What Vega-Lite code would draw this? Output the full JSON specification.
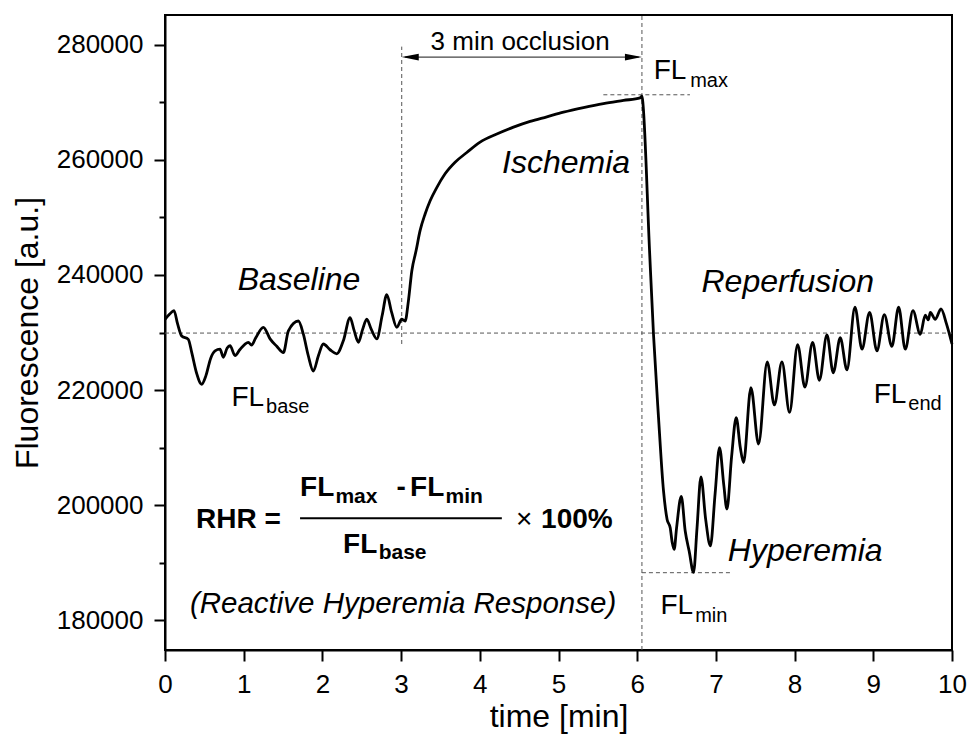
{
  "$schema": "https://vega.github.io/schema/vega-lite/v6.json",
  "width": 787,
  "height": 635,
  "padding": {"left": 165, "top": 15, "right": 16, "bottom": 86},
  "autosize": {"type": "none"},
  "background": "white",
  "config": {
    "view": {"stroke": "black", "strokeWidth": 2},
    "font": "Liberation Sans",
    "axis": {
      "labelFont": "Liberation Sans", "titleFont": "Liberation Sans",
      "labelColor": "black", "titleColor": "black",
      "domainColor": "black", "tickColor": "black",
      "domainWidth": 2, "tickWidth": 2, "grid": false,
      "titleFontWeight": "normal", "labelFontSize": 26, "titleFontSize": 32
    }
  },
  "datasets": {
    "curve": [
      {"t": 0.000, "v": 232300}, {"t": 0.060, "v": 233200}, {"t": 0.114, "v": 233800}, {"t": 0.160, "v": 231500},
      {"t": 0.212, "v": 229400}, {"t": 0.296, "v": 228800}, {"t": 0.340, "v": 226500}, {"t": 0.400, "v": 223000},
      {"t": 0.466, "v": 221000}, {"t": 0.520, "v": 222500}, {"t": 0.580, "v": 225500}, {"t": 0.636, "v": 226800},
      {"t": 0.699, "v": 227100}, {"t": 0.741, "v": 225700}, {"t": 0.790, "v": 227300}, {"t": 0.826, "v": 227700},
      {"t": 0.890, "v": 226000}, {"t": 0.950, "v": 227000}, {"t": 1.017, "v": 228000}, {"t": 1.059, "v": 228300},
      {"t": 1.100, "v": 227800}, {"t": 1.150, "v": 229000}, {"t": 1.250, "v": 230900}, {"t": 1.335, "v": 228900},
      {"t": 1.420, "v": 227600}, {"t": 1.504, "v": 226500}, {"t": 1.568, "v": 230300}, {"t": 1.695, "v": 232000},
      {"t": 1.758, "v": 229700}, {"t": 1.820, "v": 226000}, {"t": 1.885, "v": 223300}, {"t": 1.950, "v": 226000},
      {"t": 2.012, "v": 228000}, {"t": 2.097, "v": 227000}, {"t": 2.182, "v": 226300}, {"t": 2.267, "v": 228600},
      {"t": 2.352, "v": 232600}, {"t": 2.400, "v": 230500}, {"t": 2.457, "v": 228300}, {"t": 2.510, "v": 230500},
      {"t": 2.564, "v": 232300}, {"t": 2.620, "v": 230600}, {"t": 2.691, "v": 228900}, {"t": 2.760, "v": 233000},
      {"t": 2.818, "v": 236600}, {"t": 2.880, "v": 233500}, {"t": 2.945, "v": 230900}, {"t": 3.008, "v": 232300},
      {"t": 3.051, "v": 232000}, {"t": 3.093, "v": 235500}, {"t": 3.136, "v": 240700}, {"t": 3.190, "v": 244200},
      {"t": 3.241, "v": 247700}, {"t": 3.305, "v": 250600}, {"t": 3.369, "v": 252900}, {"t": 3.453, "v": 255200},
      {"t": 3.559, "v": 257600}, {"t": 3.686, "v": 259600}, {"t": 3.835, "v": 261300}, {"t": 4.004, "v": 263100},
      {"t": 4.216, "v": 264500}, {"t": 4.428, "v": 265700}, {"t": 4.640, "v": 266700}, {"t": 4.852, "v": 267500},
      {"t": 5.063, "v": 268300}, {"t": 5.317, "v": 269100}, {"t": 5.571, "v": 269800}, {"t": 5.826, "v": 270350},
      {"t": 6.038, "v": 270800}, {"t": 6.062, "v": 271100}, {"t": 6.075, "v": 269500}, {"t": 6.157, "v": 244200},
      {"t": 6.207, "v": 229700}, {"t": 6.271, "v": 215200}, {"t": 6.334, "v": 202500}, {"t": 6.380, "v": 197500},
      {"t": 6.420, "v": 196000}, {"t": 6.445, "v": 193500}, {"t": 6.470, "v": 192300}, {"t": 6.500, "v": 196000},
      {"t": 6.560, "v": 201500}, {"t": 6.610, "v": 195500}, {"t": 6.660, "v": 192000}, {"t": 6.716, "v": 188300},
      {"t": 6.760, "v": 196000}, {"t": 6.810, "v": 204900}, {"t": 6.870, "v": 197500}, {"t": 6.930, "v": 192900},
      {"t": 6.990, "v": 202000}, {"t": 7.046, "v": 210000}, {"t": 7.100, "v": 203500}, {"t": 7.140, "v": 199300},
      {"t": 7.200, "v": 208500}, {"t": 7.258, "v": 215200}, {"t": 7.310, "v": 210000}, {"t": 7.351, "v": 207400},
      {"t": 7.445, "v": 220400}, {"t": 7.542, "v": 210600}, {"t": 7.652, "v": 224900}, {"t": 7.743, "v": 217400},
      {"t": 7.839, "v": 224900}, {"t": 7.936, "v": 216100}, {"t": 8.038, "v": 227900}, {"t": 8.131, "v": 220500},
      {"t": 8.229, "v": 228300}, {"t": 8.315, "v": 221700}, {"t": 8.411, "v": 229600}, {"t": 8.491, "v": 223000},
      {"t": 8.580, "v": 229100}, {"t": 8.665, "v": 223500}, {"t": 8.767, "v": 234400}, {"t": 8.856, "v": 227100},
      {"t": 8.953, "v": 233500}, {"t": 9.046, "v": 226800}, {"t": 9.140, "v": 233100}, {"t": 9.236, "v": 227600},
      {"t": 9.322, "v": 234400}, {"t": 9.406, "v": 227100}, {"t": 9.504, "v": 233800}, {"t": 9.597, "v": 229700},
      {"t": 9.660, "v": 233000}, {"t": 9.700, "v": 232200}, {"t": 9.724, "v": 233500}, {"t": 9.788, "v": 232300},
      {"t": 9.860, "v": 234100}, {"t": 9.930, "v": 231500}, {"t": 10.000, "v": 228000}
    ],
    "dashedLines": [
      {"t": 0, "t2": 10, "v": 229900, "v2": 229900},
      {"t": 3.008, "t2": 3.008, "v": 228000, "v2": 279700},
      {"t": 6.06, "t2": 6.06, "v": 174800, "v2": 285200},
      {"t": 5.57, "t2": 6.67, "v": 271330, "v2": 271330},
      {"t": 6.06, "t2": 7.19, "v": 188240, "v2": 188240}
    ],
    "arrowShaft": [{"t": 3.05, "t2": 6.02, "v": 277880}],
    "arrowLeft": [{"t": 3.008, "v": 277880}],
    "arrowRight": [{"t": 6.06, "v": 277880}],
    "fractionBar": [{"t": 1.716, "t2": 4.28, "v": 197705}],
    "phaseLabels": [
      {"t": 1.703, "v": 237390, "label": "Baseline"},
      {"t": 5.097, "v": 257686, "label": "Ischemia"},
      {"t": 7.913, "v": 236973, "label": "Reperfusion"},
      {"t": 8.135, "v": 190270, "label": "Hyperemia"}
    ],
    "responseLabel": [{"t": 3.025, "v": 181272, "label": "(Reactive Hyperemia Response)"}],
    "occlusionLabel": [{"t": 4.513, "v": 279043, "label": "3 min occlusion"}],
    "flLabels": [
      {"t": 6.21, "v": 274117, "label": "FL"},
      {"t": 0.845, "v": 217250, "label": "FL"},
      {"t": 9.005, "v": 217826, "label": "FL"},
      {"t": 6.295, "v": 180993, "label": "FL"}
    ],
    "flSubs": [
      {"t": 6.673, "v": 272655, "label": "max"},
      {"t": 1.284, "v": 215980, "label": "base"},
      {"t": 9.445, "v": 216503, "label": "end"},
      {"t": 6.737, "v": 179708, "label": "min"}
    ],
    "boldMain": [
      {"t": 0.394, "v": 196069, "label": "RHR ="},
      {"t": 1.716, "v": 201586, "label": "FL"},
      {"t": 2.94, "v": 201586, "label": "-"},
      {"t": 3.114, "v": 201586, "label": "FL"},
      {"t": 2.263, "v": 191716, "label": "FL"},
      {"t": 4.779, "v": 196069, "label": "100%"}
    ],
    "boldSubs": [
      {"t": 2.165, "v": 200420, "label": "max"},
      {"t": 3.565, "v": 200420, "label": "min"},
      {"t": 2.715, "v": 190567, "label": "base"}
    ],
    "timesSign": [{"t": 4.563, "v": 196069, "label": "×"}]
  },
  "layer": [
    {
      "data": {"name": "dashedLines"},
      "mark": {"type": "rule", "color": "#555555", "strokeWidth": 1, "strokeDash": [4, 3]},
      "encoding": {
        "x": {
          "field": "t", "type": "quantitative", "title": "time [min]",
          "scale": {"domain": [0, 10], "nice": false, "zero": false},
          "axis": {
            "values": [0, 0.5, 1, 1.5, 2, 2.5, 3, 3.5, 4, 4.5, 5, 5.5, 6, 6.5, 7, 7.5, 8, 8.5, 9, 9.5, 10],
            "labelExpr": "datum.value % 1 === 0 ? format(datum.value, 'd') : ''",
            "tickSize": {"condition": {"test": "datum.value % 1 !== 0", "value": 6}, "value": 11},
            "labelPadding": 10, "titlePadding": 4, "labelFlush": false, "labelOverlap": false
          }
        },
        "x2": {"field": "t2"},
        "y": {
          "field": "v", "type": "quantitative", "title": "Fluorescence [a.u.]",
          "scale": {"domain": [174800, 285200], "nice": false, "zero": false},
          "axis": {
            "values": [180000, 190000, 200000, 210000, 220000, 230000, 240000, 250000, 260000, 270000, 280000],
            "labelExpr": "datum.value % 20000 === 0 ? format(datum.value, 'd') : ''",
            "tickSize": {"condition": {"test": "datum.value % 20000 !== 0", "value": 6}, "value": 11},
            "labelPadding": 11, "titlePadding": 12, "labelFlush": false, "labelOverlap": false
          }
        },
        "y2": {"field": "v2"}
      }
    },
    {
      "data": {"name": "curve"},
      "mark": {"type": "line", "color": "black", "strokeWidth": 2.8, "interpolate": "monotone", "strokeJoin": "round"},
      "encoding": {
        "x": {"field": "t", "type": "quantitative"},
        "y": {"field": "v", "type": "quantitative"}
      }
    },
    {
      "data": {"name": "arrowShaft"},
      "mark": {"type": "rule", "color": "#444444", "strokeWidth": 1.2},
      "encoding": {
        "x": {"field": "t", "type": "quantitative"},
        "x2": {"field": "t2"},
        "y": {"field": "v", "type": "quantitative"}
      }
    },
    {
      "data": {"name": "arrowLeft"},
      "mark": {"type": "point", "shape": "M 0 0 L 2 -0.4 L 2 0.4 Z", "size": 289, "filled": true, "color": "black", "opacity": 1, "strokeWidth": 0},
      "encoding": {
        "x": {"field": "t", "type": "quantitative"},
        "y": {"field": "v", "type": "quantitative"}
      }
    },
    {
      "data": {"name": "arrowRight"},
      "mark": {"type": "point", "shape": "M 0 0 L -2 -0.4 L -2 0.4 Z", "size": 289, "filled": true, "color": "black", "opacity": 1, "strokeWidth": 0},
      "encoding": {
        "x": {"field": "t", "type": "quantitative"},
        "y": {"field": "v", "type": "quantitative"}
      }
    },
    {
      "data": {"name": "fractionBar"},
      "mark": {"type": "rule", "color": "black", "strokeWidth": 2},
      "encoding": {
        "x": {"field": "t", "type": "quantitative"},
        "x2": {"field": "t2"},
        "y": {"field": "v", "type": "quantitative"}
      }
    },
    {
      "data": {"name": "phaseLabels"},
      "mark": {"type": "text", "font": "Liberation Sans", "fontSize": 32, "fontStyle": "italic", "align": "center", "baseline": "alphabetic", "color": "black"},
      "encoding": {
        "x": {"field": "t", "type": "quantitative"},
        "y": {"field": "v", "type": "quantitative"},
        "text": {"field": "label"}
      }
    },
    {
      "data": {"name": "responseLabel"},
      "mark": {"type": "text", "font": "Liberation Sans", "fontSize": 29.5, "fontStyle": "italic", "align": "center", "baseline": "alphabetic", "color": "black"},
      "encoding": {
        "x": {"field": "t", "type": "quantitative"},
        "y": {"field": "v", "type": "quantitative"},
        "text": {"field": "label"}
      }
    },
    {
      "data": {"name": "occlusionLabel"},
      "mark": {"type": "text", "font": "Liberation Sans", "fontSize": 26, "align": "center", "baseline": "alphabetic", "color": "black"},
      "encoding": {
        "x": {"field": "t", "type": "quantitative"},
        "y": {"field": "v", "type": "quantitative"},
        "text": {"field": "label"}
      }
    },
    {
      "data": {"name": "flLabels"},
      "mark": {"type": "text", "font": "Liberation Sans", "fontSize": 28, "align": "left", "baseline": "alphabetic", "color": "black"},
      "encoding": {
        "x": {"field": "t", "type": "quantitative"},
        "y": {"field": "v", "type": "quantitative"},
        "text": {"field": "label"}
      }
    },
    {
      "data": {"name": "flSubs"},
      "mark": {"type": "text", "font": "Liberation Sans", "fontSize": 20, "align": "left", "baseline": "alphabetic", "color": "black"},
      "encoding": {
        "x": {"field": "t", "type": "quantitative"},
        "y": {"field": "v", "type": "quantitative"},
        "text": {"field": "label"}
      }
    },
    {
      "data": {"name": "boldMain"},
      "mark": {"type": "text", "font": "Liberation Sans", "fontSize": 28, "fontWeight": "bold", "align": "left", "baseline": "alphabetic", "color": "black"},
      "encoding": {
        "x": {"field": "t", "type": "quantitative"},
        "y": {"field": "v", "type": "quantitative"},
        "text": {"field": "label"}
      }
    },
    {
      "data": {"name": "boldSubs"},
      "mark": {"type": "text", "font": "Liberation Sans", "fontSize": 21, "fontWeight": "bold", "align": "left", "baseline": "alphabetic", "color": "black"},
      "encoding": {
        "x": {"field": "t", "type": "quantitative"},
        "y": {"field": "v", "type": "quantitative"},
        "text": {"field": "label"}
      }
    },
    {
      "data": {"name": "timesSign"},
      "mark": {"type": "text", "font": "Liberation Sans", "fontSize": 28, "align": "center", "baseline": "alphabetic", "color": "black"},
      "encoding": {
        "x": {"field": "t", "type": "quantitative"},
        "y": {"field": "v", "type": "quantitative"},
        "text": {"field": "label"}
      }
    }
  ]
}
